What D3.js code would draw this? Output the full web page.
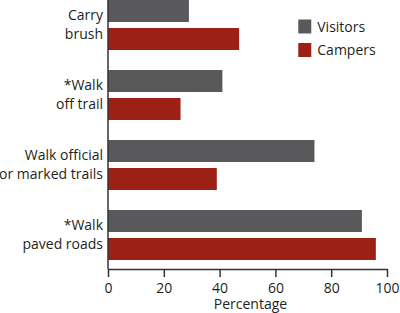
<!DOCTYPE html>
<html>
<head>
<meta charset="utf-8">
<script src="https://cdn.jsdelivr.net/npm/d3@7"></script>
<style>
  body { margin: 0; background: #fff; }
  text { font-family: "Open Sans", "Noto Sans", sans-serif; fill: #231f20; }
</style>
</head>
<body>
<div id="chart"></div>
<script>
(function () {

  // Data
  const activities = [["Carry", "brush"], ["*Walk", "off trail"], ["Walk official", "or marked trails"], ["*Walk", "paved roads"]]
  const series = ["Visitors", "Campers"]
  const visitors = [29, 41, 74, 91]
  const campers = [47, 26, 39, 96]
  const ticks = [0, 20, 40, 60, 80, 100]

  const colors = ["#59595b", "#9c2016"]

  // Margin convention
  const margin = { top: 0, right: 13, bottom: 44, left: 108 }
  const width = 400 - margin.left - margin.right
  const height = 313 - margin.top - margin.bottom

  const svg = d3.select("#chart").append("svg")
      .attr("width", width + margin.left + margin.right)
      .attr("height", height + margin.top + margin.bottom)
      .append("g")
      .attr("transform", "translate(" + margin.left + "," + margin.top + ")")

  const xScale = d3.scaleLinear().domain([0, 100]).range([0, width])

  // group bands: step 70, 50 tall
  const yScale = d3.scaleBand()
    .domain(d3.range(activities.length))
    .range([0, 260])
    .paddingInner(20 / 70)
    .paddingOuter(0)

  const inner = d3.scaleBand()
    .domain(series)
    .range([0, yScale.bandwidth()])
    .paddingInner(6 / 28)

  const rows = []
  activities.forEach((a, i) => {
    rows.push({ i, s: "Visitors", v: visitors[i] })
    rows.push({ i, s: "Campers", v: campers[i] })
  })

  svg.selectAll('rect.bar')
    .data(rows)
    .join('rect')
    .attr('class', 'bar')
    .attr('x', 0)
    .attr('y', d => yScale(d.i) + inner(d.s))
    .attr('width', d => xScale(d.v))
    .attr('height', inner.bandwidth())
    .attr('fill', d => colors[series.indexOf(d.s)])

  // category labels
  const labels = svg.selectAll('text.cat')
    .data(activities)
    .join('text')
    .attr('class', 'cat')
    .attr('text-anchor', 'end')
    .attr('font-size', 14)
    .attr('x', -5)
    .attr('y', (d, i) => yScale(i) + 20)
  labels.selectAll('tspan')
    .data(d => d)
    .join('tspan')
    .attr('x', -5)
    .attr('dy', (d, j) => j === 0 ? 0 : 18.5)
    .text(d => d)

  // axes
  const xAxis = d3.axisBottom(xScale).tickValues(ticks).tickSize(8).tickSizeOuter(0)
  const gx = svg.append('g')
    .attr('transform', 'translate(0,' + height + ')')
    .call(xAxis)
  gx.select('.domain').attr('stroke', '#333').attr('stroke-width', 1.5)
  gx.selectAll('.tick line').attr('stroke', '#333').attr('stroke-width', 1.5)
  gx.selectAll('.tick text')
    .attr('font-size', 14)
    .attr('font-family', '"Open Sans", "Noto Sans", sans-serif')
    .attr('fill', '#231f20')
    .attr('dy', '0.75em')
    .attr('y', 13)

  svg.append('line')
    .attr('x1', 0).attr('x2', 0)
    .attr('y1', 0).attr('y2', height)
    .attr('stroke', '#333').attr('stroke-width', 1.5)

  svg.append('text')
    .attr('x', width / 2 + 3)
    .attr('y', height + 40)
    .attr('text-anchor', 'middle')
    .attr('font-size', 14)
    .text('Percentage')

  // legend
  const legend = svg.selectAll('g.legend')
    .data(series)
    .join('g')
    .attr('class', 'legend')
    .attr('transform', (d, i) => 'translate(' + (xScale(68.2)) + ',' + (19.5 + i * 23.5) + ')')
  legend.append('rect')
    .attr('width', 13).attr('height', 14)
    .attr('fill', (d, i) => colors[i])
  legend.append('text')
    .attr('x', 19).attr('y', 12)
    .attr('font-size', 14)
    .text(d => d)

})();
</script>
</body>
</html>
